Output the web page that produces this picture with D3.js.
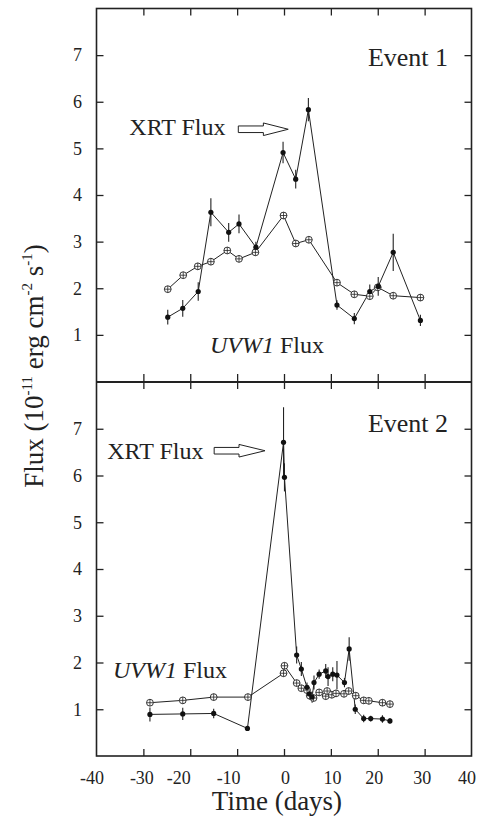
<!DOCTYPE html>
<html>
<head>
<meta charset="utf-8">
<script src="https://cdn.jsdelivr.net/npm/d3@7"></script>
<style>
  html, body { margin: 0; padding: 0; background: #fff; }
  svg { display: block; }
  svg text { font-family: "Liberation Serif", "DejaVu Serif", "Times New Roman", Times, serif !important; fill: #222; }
</style>
</head>
<body>
<script>
// ---------------- DATA ----------------
// Event 1 — XRT flux (filled dots) [time (days), flux, error]
const e1XrtT   = [-24.8, -21.6, -18.3, -15.6, -11.8, -9.6, -6.0, -0.2, 2.5, 5.2, 11.3, 15.0, 18.3, 20.1, 23.3, 29.1];
const e1XrtF   = [1.38, 1.57, 1.93, 3.63, 3.20, 3.38, 2.88, 4.91, 4.34, 5.83, 1.64, 1.35, 1.93, 2.04, 2.77, 1.31];
const e1XrtE   = [0.16, 0.18, 0.20, 0.30, 0.20, 0.20, 0.12, 0.23, 0.20, 0.25, 0.10, 0.12, 0.15, 0.20, 0.40, 0.12];
// Event 1 — UVW1 flux (open circles)
const e1UvT    = [-24.8, -21.5, -18.4, -15.6, -12.1, -9.6, -6.1, -0.1, 2.5, 5.3, 11.3, 15.0, 18.3, 20.0, 23.3, 29.1];
const e1UvF    = [1.98, 2.28, 2.47, 2.57, 2.81, 2.63, 2.77, 3.56, 2.96, 3.04, 2.12, 1.87, 1.83, 2.02, 1.84, 1.80];

// Event 2 — XRT flux
const e2XrtT   = [-28.6, -21.6, -15.0, -7.8, -0.1, 0.1, 2.7, 3.7, 4.9, 5.4, 6.0, 6.4, 7.5, 8.9, 9.4, 10.4, 11.3, 12.9, 13.9, 15.2, 17.0, 18.5, 21.0, 22.6];
const e2XrtF   = [0.89, 0.90, 0.91, 0.59, 6.71, 5.96, 2.16, 1.86, 1.47, 1.33, 1.26, 1.57, 1.75, 1.82, 1.70, 1.75, 1.73, 1.57, 2.29, 1.00, 0.80, 0.80, 0.79, 0.75];
const e2XrtE   = [0.15, 0.13, 0.10, 0.05, 0.75, 0.30, 0.18, 0.15, 0.10, 0.12, 0.12, 0.15, 0.10, 0.15, 0.20, 0.15, 0.30, 0.10, 0.25, 0.10, 0.08, 0.06, 0.08, 0.06];
// Event 2 — UVW1 flux
const e2UvT    = [-28.6, -21.6, -15.0, -7.7, -0.1, 0.1, 2.7, 3.7, 4.9, 5.5, 6.3, 7.5, 8.9, 9.2, 10.2, 11.1, 12.8, 13.8, 15.3, 17.0, 18.1, 21.0, 22.6];
const e2UvF    = [1.14, 1.19, 1.26, 1.26, 1.77, 1.93, 1.56, 1.45, 1.41, 1.29, 1.24, 1.36, 1.28, 1.39, 1.31, 1.34, 1.33, 1.39, 1.29, 1.19, 1.18, 1.14, 1.11];

const xTicks = [-40, -30, -20, -10, 0, 10, 20, 30, 40];
const yTicks = [1, 2, 3, 4, 5, 6, 7];
const xDomain = [-40, 40];
const yDomain = [0, 8];
const panelLabels = ["Event 1", "Event 2"];

// ---------------- LAYOUT ----------------
const W = 486, H = 825;
const pLeft = 96.5, pRight = 471.5, pTop = 8.5, pMid = 382, pBottom = 756;
const tickLen = 7;
const SERIF = '"Liberation Serif", "DejaVu Serif", "Times New Roman", Times, serif';
// small horizontal nudges of the bottom tick labels (as typeset in the original)
const xLabelNudge = {"-40": -5, "-30": -2, "-20": -12, "-10": -9, "0": 1, "10": 1, "20": -4, "30": -3, "40": -5};

const svg = d3.select("body").append("svg").attr("width", W).attr("height", H)
  .attr("font-family", SERIF);
svg.append("rect").attr("width", W).attr("height", H).attr("fill", "#fff");

const x = d3.scaleLinear().domain(xDomain).range([pLeft, pRight]);
const y1 = d3.scaleLinear().domain(yDomain).range([pMid - 0.5, pTop]);
const y2 = d3.scaleLinear().domain(yDomain).range([pBottom, pMid]);

function styleAxis(g) {
  g.attr("font-family", SERIF);
  g.select(".domain").remove();
  g.selectAll(".tick line").attr("stroke", "#222").attr("stroke-width", 1.3);
  g.selectAll("text").attr("font-family", SERIF).attr("fill", "#222");
}

// y axes for both panels
[y1, y2].forEach((ys) => {
  svg.append("g").attr("transform", `translate(${pLeft},0)`)
    .call(d3.axisLeft(ys).tickValues(yTicks).tickSize(-tickLen).tickPadding(14.5).tickFormat(d3.format("d")))
    .call(styleAxis)
    .selectAll("text").attr("font-size", 18);
  svg.append("g").attr("transform", `translate(${pRight},0)`)
    .call(d3.axisRight(ys).tickValues(yTicks).tickSize(-tickLen).tickFormat(""))
    .call(styleAxis);
});

// x ticks: top of panel 1, divider (both sides), bottom of panel 2
svg.append("g").attr("transform", `translate(0,${pTop})`)
  .call(d3.axisTop(x).tickValues(xTicks.slice(1, -1)).tickSize(-tickLen).tickFormat(""))
  .call(styleAxis);
svg.append("g").attr("transform", `translate(0,${pMid})`)
  .call(d3.axisBottom(x).tickValues(xTicks.slice(1, -1)).tickSize(-8).tickFormat(""))
  .call(styleAxis);
svg.append("g").attr("transform", `translate(0,${pMid})`)
  .call(d3.axisTop(x).tickValues(xTicks.slice(1, -1)).tickSize(-tickLen).tickFormat(""))
  .call(styleAxis);
const xb = svg.append("g").attr("transform", `translate(0,${pBottom})`)
  .call(d3.axisBottom(x).tickValues(xTicks).tickSize(-tickLen).tickPadding(15).tickFormat(d => String(d)))
  .call(styleAxis);
xb.selectAll(".tick").filter(d => d === -40 || d === 40).select("line").remove();
xb.selectAll("text").attr("font-size", 18).attr("dx", d => xLabelNudge[String(d)] || 0);

// frame and divider
svg.append("rect").attr("x", pLeft).attr("y", pTop).attr("width", pRight - pLeft).attr("height", pBottom - pTop)
  .attr("fill", "none").attr("stroke", "#222").attr("stroke-width", 1.6);
svg.append("line").attr("x1", pLeft).attr("x2", pRight).attr("y1", pMid).attr("y2", pMid)
  .attr("stroke", "#222").attr("stroke-width", 2);

// ---------------- SERIES ----------------
function zip3(t, f, e) { return t.map((v, i) => ({t: v, f: f[i], e: e ? e[i] : 0})); }

function drawPanel(ys, xrt, uv) {
  const g = svg.append("g");
  const line = d3.line().x(d => x(d.t)).y(d => ys(d.f));
  g.append("path").datum(uv).attr("d", line).attr("fill", "none").attr("stroke", "#222").attr("stroke-width", 1);
  g.append("path").datum(xrt).attr("d", line).attr("fill", "none").attr("stroke", "#222").attr("stroke-width", 1);
  // XRT error bars
  g.selectAll(".eb").data(xrt).join("line")
    .attr("x1", d => x(d.t)).attr("x2", d => x(d.t))
    .attr("y1", d => ys(d.f - d.e)).attr("y2", d => ys(d.f + d.e))
    .attr("stroke", "#222").attr("stroke-width", 1.1);
  // UVW1 open circles with cross
  const c = g.selectAll(".uv").data(uv).join("g").attr("transform", d => `translate(${x(d.t)},${ys(d.f)})`);
  c.append("circle").attr("r", 3.4).attr("fill", "#fff").attr("stroke", "#222").attr("stroke-width", 0.9);
  c.append("path").attr("d", "M0,-3.4V3.4M-3.4,0H3.4").attr("stroke", "#222").attr("stroke-width", 0.8);
  // XRT filled dots
  g.selectAll(".xd").data(xrt).join("circle")
    .attr("cx", d => x(d.t)).attr("cy", d => ys(d.f)).attr("r", 2.6).attr("fill", "#111");
}
drawPanel(y1, zip3(e1XrtT, e1XrtF, e1XrtE), zip3(e1UvT, e1UvF));
drawPanel(y2, zip3(e2XrtT, e2XrtF, e2XrtE), zip3(e2UvT, e2UvF));

// ---------------- ANNOTATIONS ----------------
function arrow(ys, x0, xh, x1, yv) {
  const X0 = x(x0), XH = x(xh), X1 = x(x1), Y = ys(yv);
  const s = 3.3, h = 6.3;
  const p = `M${X0},${Y - s}H${XH}V${Y - h}L${X1},${Y}L${XH},${Y + h}V${Y + s}H${X0}Z`;
  svg.append("path").attr("d", p).attr("fill", "#fff").attr("stroke", "#222").attr("stroke-width", 1);
}
function label(ys, tx, ty, parts, anchor, size) {
  const t = svg.append("text").attr("x", x(tx)).attr("y", ys(ty)).attr("text-anchor", anchor || "start")
    .attr("font-size", size);
  parts.forEach(p => t.append("tspan").text(p.s).attr("font-style", p.i ? "italic" : "normal"));
}
// panel 1
label(y1, -33.0, 5.28, [{s: "XRT Flux"}], "start", 24);
arrow(y1, -9.75, -4.4, 0.9, 5.41);
label(y1, -15.8, 0.62, [{s: "UVW1", i: true}, {s: " Flux"}], "start", 24);
label(y1, 35.0, 6.76, [{s: panelLabels[0]}], "end", 26);
// panel 2
label(y2, -37.7, 6.35, [{s: "XRT Flux"}], "start", 24);
arrow(y2, -14.9, -9.6, -4.05, 6.53);
label(y2, -36.5, 1.67, [{s: "UVW1", i: true}, {s: " Flux"}], "start", 24);
label(y2, 35.0, 6.94, [{s: panelLabels[1]}], "end", 26);

// axis titles
svg.append("text").attr("x", (pLeft + pRight) / 2 - 7).attr("y", 810).attr("text-anchor", "middle")
  .attr("font-size", 27).text("Time (days)");
const yl = svg.append("text").attr("transform", "translate(43,366) rotate(-90)").attr("text-anchor", "middle")
  .attr("font-size", 27);
yl.append("tspan").text("Flux (10");
yl.append("tspan").attr("dy", -11).attr("font-size", 15).text("-11");
yl.append("tspan").attr("dy", 11).text(" erg cm");
yl.append("tspan").attr("dy", -11).attr("font-size", 15).text("-2");
yl.append("tspan").attr("dy", 11).text(" s");
yl.append("tspan").attr("dy", -11).attr("font-size", 15).text("-1");
yl.append("tspan").attr("dy", 11).text(")");
</script>
</body>
</html>
